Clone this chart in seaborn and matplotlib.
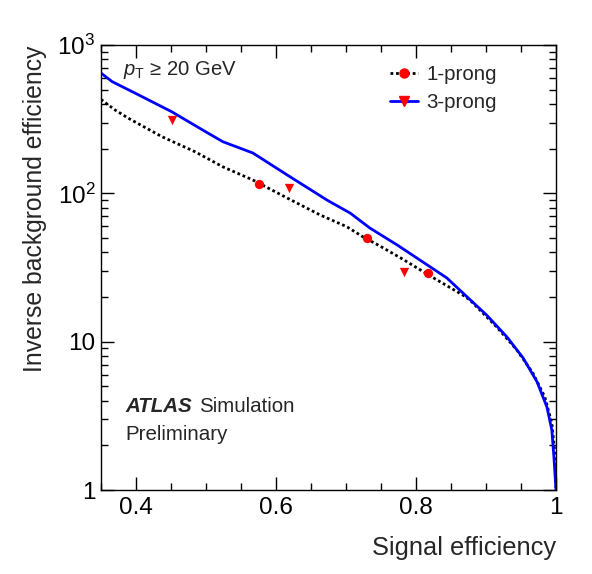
import numpy as np
import pandas as pd
import matplotlib
matplotlib.use("Agg")
import matplotlib.pyplot as plt
import seaborn as sns
from matplotlib.lines import Line2D
from matplotlib.ticker import FixedLocator, LogLocator, NullFormatter, FuncFormatter

# 3-prong ROC curve (signal efficiency, inverse background efficiency)
eff_3p = [0.350, 0.366, 0.399, 0.451, 0.499, 0.524, 0.567, 0.616, 0.673, 0.706,
          0.734, 0.773, 0.801, 0.844, 0.867, 0.901, 0.930, 0.953, 0.973, 0.987,
          0.994, 0.997, 1.000]
rej_3p = [647, 566, 473, 355, 261, 223, 187, 133, 90, 73.6,
          58.4, 44.9, 36.7, 26.9, 21.3, 15.1, 10.75, 7.77, 5.35, 3.63,
          2.54, 1.67, 1.0]

# 1-prong ROC curve
eff_1p = [0.350, 0.370, 0.389, 0.437, 0.484, 0.524, 0.567, 0.616, 0.663, 0.701,
          0.724, 0.749, 0.781, 0.820, 0.867, 0.877, 0.915, 0.944, 0.967, 0.984,
          0.994, 0.999, 1.000]
rej_1p = [430, 365, 321, 241, 191, 151, 123, 93, 71.5, 59.6,
          51, 44, 36, 27.8, 20.6, 19.1, 12.6, 8.8, 6.15, 4.24,
          2.83, 1.66, 1.0]

# working points
wp_eff_1p = [0.576, 0.730, 0.817]
wp_rej_1p = [116, 50, 29]
wp_eff_3p = [0.451, 0.619, 0.783]
wp_rej_3p = [312, 108, 29.5]

sns.set_theme(style="ticks")
plt.rcParams["font.family"] = ["Liberation Sans", "DejaVu Sans"]
plt.rcParams["mathtext.fontset"] = "custom"
plt.rcParams["mathtext.rm"] = "Liberation Sans"
plt.rcParams["mathtext.it"] = "Liberation Sans:italic"
plt.rcParams["mathtext.bf"] = "Liberation Sans:bold"

fig = plt.figure(figsize=(5.92, 5.74), dpi=100)
ax = fig.add_axes([0.1706, 0.1463, 0.7686, 0.7753])

df3 = pd.DataFrame({"eff": eff_3p, "rej": rej_3p})
df1 = pd.DataFrame({"eff": eff_1p, "rej": rej_1p})

dotted = (0, (1.0, 1.0))
sns.lineplot(data=df1, x="eff", y="rej", ax=ax, color="black", linewidth=2.0,
             linestyle=dotted, estimator=None, sort=False)
sns.lineplot(data=df3, x="eff", y="rej", ax=ax, color="#0000ff", linewidth=2.0,
             estimator=None, sort=False)
sns.scatterplot(x=wp_eff_1p, y=wp_rej_1p, ax=ax, marker="o", color="#ff0000",
                s=45, linewidth=0, zorder=5)
sns.scatterplot(x=wp_eff_3p, y=wp_rej_3p, ax=ax, marker="v", color="#ff0000",
                s=45, linewidth=0, zorder=5)

ax.set_yscale("log")
ax.set_xlim(0.35, 1.0)
ax.set_ylim(1, 1000)

ax.xaxis.set_major_locator(FixedLocator([0.4, 0.6, 0.8, 1.0]))
ax.xaxis.set_minor_locator(FixedLocator(np.arange(0.35, 1.001, 0.05)))
ax.xaxis.set_major_formatter(FuncFormatter(lambda v, p: "1" if abs(v - 1) < 1e-6 else f"{v:.1f}"))

ylabels = {1: "1", 10: "10", 100: r"$10^{2}$", 1000: r"$10^{3}$"}
ax.yaxis.set_major_locator(FixedLocator([1, 10, 100, 1000]))
ax.yaxis.set_minor_locator(LogLocator(base=10, subs=np.arange(2, 10)))
ax.yaxis.set_major_formatter(FuncFormatter(lambda v, p: ylabels.get(int(round(v)), "")))
ax.yaxis.set_minor_formatter(NullFormatter())

ax.tick_params(which="both", direction="in", top=True, right=True, width=1.0,
               colors="black", labelsize=17.5)
ax.tick_params(which="major", length=9.4)
ax.tick_params(which="minor", length=4.7)
ax.tick_params(axis="x", which="major", pad=5)
ax.tick_params(axis="y", which="major", pad=4)
for s in ax.spines.values():
    s.set_linewidth(1.0)
    s.set_color("black")

ax.set_xlabel("Signal efficiency", fontsize=18.3, loc="right")
ax.set_ylabel("Inverse background efficiency", fontsize=17.8, loc="top")
ax.xaxis.set_label_coords(1.0, -0.103)
ax.yaxis.set_label_coords(-0.118, 1.0)

ax.text(0.048, 0.933, r"$p_{\mathrm{T}}$" + " \u2265 20 GeV", transform=ax.transAxes,
        fontsize=14.6, va="baseline", ha="left")
ax.text(0.053, 0.175, "ATLAS", transform=ax.transAxes, fontsize=14.8,
        fontweight="bold", fontstyle="italic", va="baseline", ha="left")
ax.text(0.215, 0.175, "Simulation", transform=ax.transAxes, fontsize=14.8,
        va="baseline", ha="left")
ax.text(0.053, 0.112, "Preliminary", transform=ax.transAxes, fontsize=14.8,
        va="baseline", ha="left")

handles = [
    Line2D([], [], color="black", linewidth=2.0, linestyle=dotted,
           marker="o", markerfacecolor="#ff0000", markeredgecolor="#ff0000", markersize=6.5),
    Line2D([], [], color="#0000ff", linewidth=2.0,
           marker="v", markerfacecolor="#ff0000", markeredgecolor="#ff0000", markersize=6.5),
]
ax.legend(handles, ["1-prong", "3-prong"], loc="upper left", bbox_to_anchor=(0.635, 0.955),
          frameon=False, fontsize=14.8, numpoints=1, handlelength=1.35,
          handletextpad=0.42, labelspacing=0.45, borderpad=0, borderaxespad=0)

fig.savefig("out.png", dpi=100)
